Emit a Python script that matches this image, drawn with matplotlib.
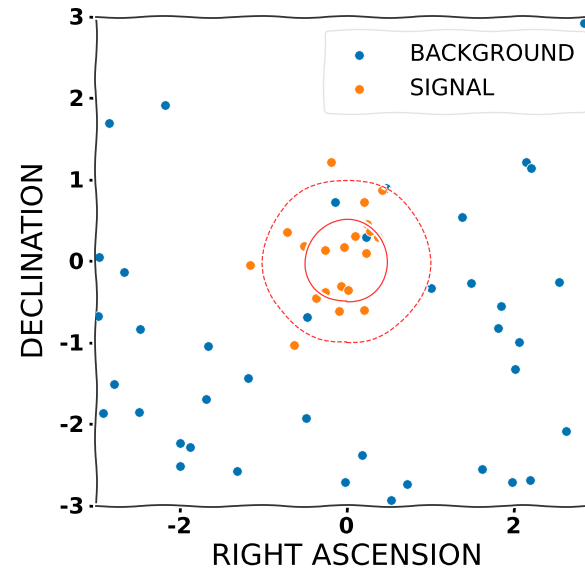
import matplotlib
matplotlib.use("Agg")
import matplotlib.pyplot as plt
from matplotlib.patches import Circle

# background events (right ascension, declination)
bg_ra = [-2.17, -2.84, -0.14, -2.96, 2.84, 2.15, 2.21, 0.47, 1.38, 0.23,
         -2.67, -2.98, -2.47, -1.66, -0.47, -1.18, -2.78, -1.68, -2.92, -2.48,
         -0.48, -2.00, -1.87, -1.99, -1.31, 1.01, 1.49, 2.55, 1.85, 1.82,
         2.06, 2.02, 2.63, 0.18, -0.02, 0.73, 0.53, 1.62, 1.98, 2.20]
bg_dec = [1.91, 1.69, 0.72, 0.05, 2.92, 1.22, 1.14, 0.90, 0.54, 0.30,
          -0.14, -0.67, -0.83, -1.04, -0.69, -1.44, -1.51, -1.69, -1.86, -1.85,
          -1.93, -2.23, -2.28, -2.51, -2.58, -0.33, -0.27, -0.26, -0.55, -0.82,
          -0.99, -1.32, -2.08, -2.38, -2.71, -2.74, -2.93, -2.55, -2.71, -2.69]

# signal events
sig_ra = [-0.19, 0.43, 0.21, 0.25, 0.28, 0.38, 0.10, -0.71, -0.51, -0.26,
          -0.03, 0.23, -1.15, -0.26, -0.06, 0.02, -0.37, -0.09, 0.21, -0.63]
sig_dec = [1.21, 0.87, 0.72, 0.46, 0.37, 0.30, 0.31, 0.36, 0.18, 0.13,
           0.17, 0.10, -0.05, -0.38, -0.31, -0.36, -0.45, -0.61, -0.60, -1.03]

# containment circles around the source
circle_radii = [0.5, 1.0]
circle_styles = ["-", "--"]

ticks = [-2, 0, 2]
yticks = [-3, -2, -1, 0, 1, 2, 3]

with plt.xkcd():
    plt.rcParams["font.family"] = ["DejaVu Sans"]
    fig = plt.figure(figsize=(5.85, 5.77), dpi=100)
    ax = fig.add_axes([96 / 585, 71.5 / 577, 501 / 585, 489 / 577])

    ax.scatter(bg_ra, bg_dec, s=48, color="#0173B2", edgecolor="white",
               linewidth=0.6, label="BACKGROUND", zorder=3)
    ax.scatter(sig_ra, sig_dec, s=48, color="#FF7F0E", edgecolor="white",
               linewidth=0.6, label="SIGNAL", zorder=4)

    for r, ls in zip(circle_radii, circle_styles):
        ax.add_patch(Circle((0, 0), r, fill=False, edgecolor="#ff3333",
                            linestyle=ls, linewidth=0.9, zorder=5))

    ax.set_xlim(-3, 3)
    ax.set_ylim(-3, 3)
    ax.set_xticks(ticks)
    ax.set_yticks(yticks)
    ax.tick_params(labelsize=16, length=5, width=2)
    for lab in ax.get_xticklabels() + ax.get_yticklabels():
        lab.set_fontweight("bold")
    for sp in ax.spines.values():
        sp.set_color("#333333")
        sp.set_linewidth(1.3)

    ax.set_xlabel("RIGHT ASCENSION", fontsize=21, labelpad=4)
    ax.set_ylabel("DECLINATION", fontsize=21, labelpad=8)

    leg = ax.legend(loc="upper right", fontsize=16.5, frameon=True,
                    handletextpad=1.2, borderpad=0.55, labelspacing=0.5,
                    borderaxespad=0, bbox_to_anchor=(0.98, 0.972))
    leg.get_frame().set_edgecolor("#dddddd")
    leg.get_frame().set_linewidth(1.0)

    fig.savefig("out.png", dpi=100)
